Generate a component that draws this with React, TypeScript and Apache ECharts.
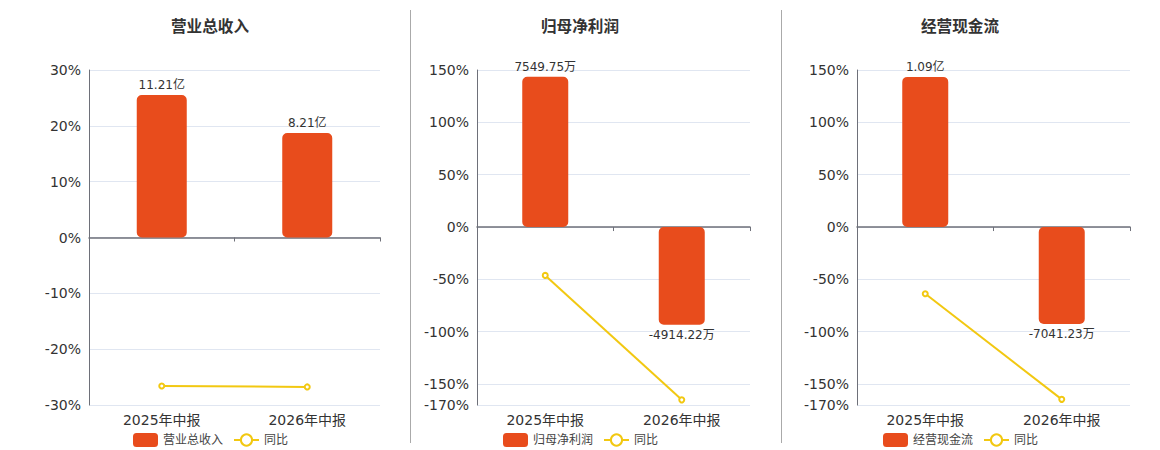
import React, { useEffect, useRef } from "react";
import * as echarts from "echarts";

const categories = ["2025年中报", "2026年中报"];

const revenueValues = [11.21, 8.21]; // 亿
const revenueLabels = ["11.21亿", "8.21亿"];
const revenueYoy = [-26.6, -26.76];
const revenueTicks = [-30, -20, -10, 0, 10, 20, 30];

const profitValues = [7549.75, -4914.22]; // 万
const profitLabels = ["7549.75万", "-4914.22万"];
const profitYoy = [-46.2, -165.09];
const profitTicks = [-170, -150, -100, -50, 0, 50, 100, 150];

const cashValues = [10900, -7041.23]; // 万
const cashLabels = ["1.09亿", "-7041.23万"];
const cashYoy = [-63.8, -164.6];
const cashTicks = [-170, -150, -100, -50, 0, 50, 100, 150];

const panels = [
  { title: "营业总收入", barName: "营业总收入", values: revenueValues, labels: revenueLabels, yoy: revenueYoy, ticks: revenueTicks, pctMin: -30, pctMax: 30, barScale: 0.439, left: 89, right: 780, center: 210, barWidth: 50 },
  { title: "归母净利润", barName: "归母净利润", values: profitValues, labels: profitLabels, yoy: profitYoy, ticks: profitTicks, pctMin: -170, pctMax: 150, barScale: 52.6, left: 477, right: 410, center: 580, barWidth: 46 },
  { title: "经营现金流", barName: "经营现金流", values: cashValues, labels: cashLabels, yoy: cashYoy, ticks: cashTicks, pctMin: -170, pctMax: 150, barScale: 76, left: 857, right: 30, center: 960, barWidth: 46 },
];

const FONT = "'DejaVu Sans', 'Noto Sans CJK SC', sans-serif";
const BAR_COLOR = "#E84C1C";
const LINE_COLOR = "#F2C811";
const TEXT = "#333333";
const AXIS = "#6E7079";

export default function App() {
  const ref = useRef<HTMLDivElement>(null);
  useEffect(() => {
    if (!ref.current) return;
    const chart = echarts.init(ref.current, undefined, { renderer: "svg" });
    const title: any[] = [];
    const legend: any[] = [];
    const grid: any[] = [];
    const xAxis: any[] = [];
    const yAxis: any[] = [];
    const series: any[] = [];
    panels.forEach((p, i) => {
      title.push({
        text: p.title,
        left: p.center - 5,
        textAlign: "center",
        top: 12,
        textStyle: { fontSize: 15.6, fontWeight: "bold", color: TEXT, fontFamily: "'Noto Sans CJK SC', sans-serif" },
      });
      legend.push({
        left: p.center - 82,
        top: 428,
        itemWidth: 25,
        itemHeight: 14,
        itemGap: 10,
        textStyle: { fontSize: 12, color: "#444", fontFamily: FONT },
        data: [{ name: p.barName, icon: "roundRect" }, { name: "同比" }],
      });
      grid.push({ left: p.left, right: p.right, top: 70, bottom: 45 });
      xAxis.push({
        type: "category",
        gridIndex: i,
        data: categories,
        position: "bottom",
        axisLine: { show: false, onZero: false },
        axisTick: { show: false },
        axisLabel: { fontSize: 14, color: TEXT, margin: 8, fontFamily: FONT },
      });
      xAxis.push({
        type: "category",
        gridIndex: i,
        data: categories,
        position: "bottom",
        axisLine: { show: true, onZero: true, lineStyle: { color: AXIS, width: 1.5 } },
        axisTick: { show: true, length: 4, lineStyle: { color: AXIS } },
        axisLabel: { show: false },
      });
      yAxis.push({
        type: "value",
        gridIndex: i,
        min: p.pctMin,
        max: p.pctMax,
        axisLine: { show: true, lineStyle: { color: AXIS } },
        axisTick: { show: false, customValues: p.ticks },
        axisLabel: { formatter: "{value}%", fontSize: 14, color: TEXT, fontFamily: FONT, customValues: p.ticks },
        splitLine: { show: true, lineStyle: { color: "#E0E6F1" } },
      });
      yAxis.push({
        type: "value",
        gridIndex: i,
        min: p.pctMin * p.barScale,
        max: p.pctMax * p.barScale,
        show: false,
        splitLine: { show: false },
      });
      series.push({
        type: "bar",
        name: p.barName,
        xAxisIndex: 2 * i,
        yAxisIndex: 2 * i + 1,
        barWidth: p.barWidth,
        data: p.values.map((v) => ({ value: v, label: { position: v >= 0 ? "top" : "bottom" } })),
        itemStyle: { color: BAR_COLOR, borderRadius: 5 },
        label: {
          show: true,
          fontSize: 12,
          color: TEXT,
          fontFamily: FONT,
          distance: 4,
          formatter: (d: any) => p.labels[d.dataIndex],
        },
      });
      series.push({
        type: "line",
        name: "同比",
        xAxisIndex: 2 * i,
        yAxisIndex: 2 * i,
        data: p.yoy,
        symbol: "emptyCircle",
        symbolSize: 5,
        lineStyle: { color: LINE_COLOR, width: 2 },
        itemStyle: { color: LINE_COLOR },
      });
    });
    chart.setOption({
      animation: false,
      textStyle: { fontFamily: FONT },
      title,
      legend,
      grid,
      xAxis,
      yAxis,
      series,
      graphic: [
        { type: "line", shape: { x1: 410.5, y1: 10, x2: 410.5, y2: 443 }, style: { stroke: "#AAAAAA", lineWidth: 1 } },
        { type: "line", shape: { x1: 781.5, y1: 10, x2: 781.5, y2: 443 }, style: { stroke: "#AAAAAA", lineWidth: 1 } },
      ],
    });
    return () => chart.dispose();
  }, []);
  return <div ref={ref} style={{ position: "absolute", left: 0, top: 0, width: 1160, height: 450 }} />;
}
